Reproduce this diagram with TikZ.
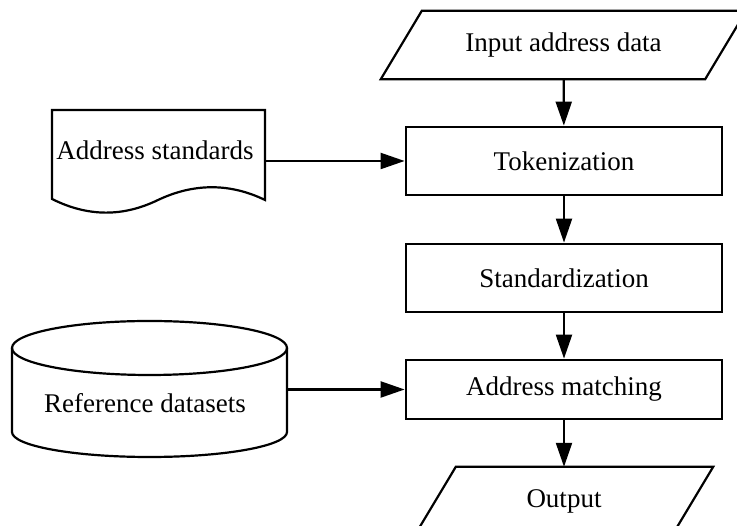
\documentclass[tikz,border=0pt]{standalone}
\usepackage{fontspec}
\setmainfont{Liberation Serif}
\usepackage{tikz}
\usetikzlibrary{arrows.meta}

\tikzset{
  proc/.style={draw,line width=2.8pt,rectangle,minimum width=316pt,minimum height=68pt,inner sep=0pt},
  io/.style={rectangle,minimum height=68pt,inner sep=0pt},
  outline/.style={line width=2.2pt,line join=miter},
  flow/.style={line width=2.2pt,-{Triangle[length=24pt,width=16pt]}},
  txt/.style={font=\fontsize{27}{32}\selectfont}
}

\begin{document}
\begin{tikzpicture}[x=1pt,y=1pt,every node/.style={txt}]
  \useasboundingbox (0,0) rectangle (737,526);
  \clip (0,0) rectangle (737,526);
  \node[io,minimum width=324pt] (in) at (563.5,481) {Input address data};
  \node[proc] (tok) at (564,365) {Tokenization};
  \node[proc] (std) at (564,248) {Standardization};
  \node[proc,minimum height=59pt] (am) at (564,136.5) {Address matching};
  \node[io,minimum width=257pt] (out) at (564,25) {Output};
  \draw[outline] ([xshift=-20.5pt]in.south west) -- ([xshift=-20.5pt]in.south east)
    -- ([xshift=20.5pt]in.north east) -- ([xshift=20.5pt]in.north west) -- cycle;
  \draw[outline] ([xshift=-20.5pt]out.south west) -- ([xshift=-20.5pt]out.south east)
    -- ([xshift=20.5pt]out.north east) -- ([xshift=20.5pt]out.north west) -- cycle;

  \draw[outline] (52,327) -- (52,416) -- (265,416) -- (265,326)
    .. controls (230,343) and (194,343) .. (158,326)
    .. controls (123,309) and (88,309) .. cycle;
  \node (stdtxt) at (155,376) {Address standards};
  \coordinate (doc-out) at (265,365);

  \draw[outline] (149.5,178) ellipse [x radius=137.5,y radius=27];
  \draw[outline] (12,178) -- (12,94) arc [start angle=180,end angle=360,x radius=137.5,y radius=25] -- (287,178);
  \node (reftxt) at (145,123) {Reference datasets};
  \coordinate (ref-out) at (287,136.5);

  \draw[flow] (in) -- (tok);
  \draw[flow] (tok) -- (std);
  \draw[flow] (std) -- (am);
  \draw[flow] (am) -- (out);
  \draw[flow] (doc-out) -- (tok.west);
  \draw[flow] (ref-out) -- (am.west);
\end{tikzpicture}
\end{document}
